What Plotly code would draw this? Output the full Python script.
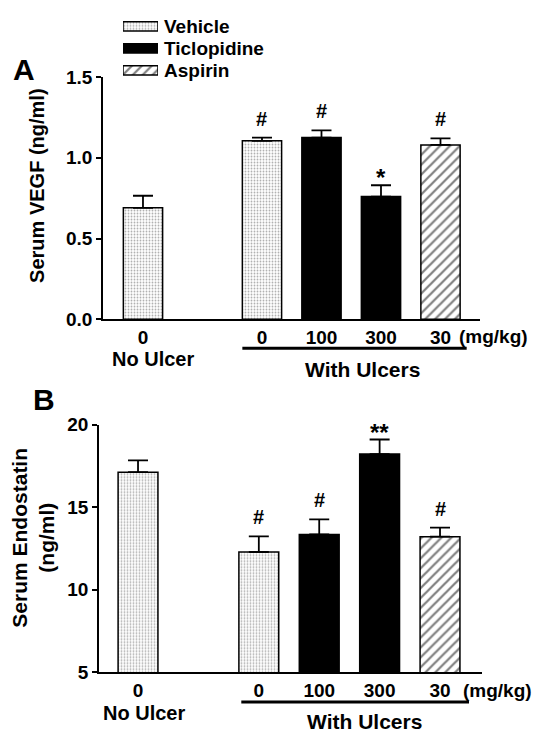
import plotly.graph_objects as go

W, H = 541, 743

# ---------------- data ----------------
groups = ["Vehicle", "Ticlopidine", "Aspirin"]
cat_keys = ["NoUlcer 0", "gap", "Ulcer 0", "Ulcer 100", "Ulcer 300", "Ulcer 30"]
dose_labels = ["0", "", "0", "100", "300", "30"]
bar_keys = ["NoUlcer 0", "Ulcer 0", "Ulcer 100", "Ulcer 300", "Ulcer 30"]
bar_group = ["Vehicle", "Vehicle", "Ticlopidine", "Ticlopidine", "Aspirin"]

vegf_mean = [0.69, 1.105, 1.125, 0.76, 1.08]
vegf_err = [0.075, 0.02, 0.045, 0.07, 0.04]
vegf_sig = ["", "#", "#", "*", "#"]

endo_mean = [17.12, 12.29, 13.35, 18.22, 13.22]
endo_err = [0.72, 0.95, 0.92, 0.88, 0.55]
endo_sig = ["", "#", "#", "**", "#"]

vegf_ticks = [0.0, 0.5, 1.0, 1.5]
vegf_ticktext = ["0.0", "0.5", "1.0", "1.5"]
endo_ticks = [5, 10, 15, 20]

FONT = "Liberation Sans, Arial, Helvetica, sans-serif"


def px(x):
    return x / W


def py(y):
    return 1 - y / H


styles = {
    "Vehicle": dict(color="white",
                    pattern=dict(shape=".", fgcolor="#5f5f5f", bgcolor="white",
                                 size=3, solidity=0.3, fillmode="overlay"),
                    line=dict(color="black", width=1.5)),
    "Ticlopidine": dict(color="black", line=dict(color="black", width=1.5)),
    "Aspirin": dict(color="white",
                    pattern=dict(shape="/", fgcolor="black", bgcolor="white",
                                 size=7, solidity=0.32, fillmode="overlay"),
                    line=dict(color="black", width=1.5)),
}

fig = go.Figure()


def add_panel(means, errs, xa, ya):
    for g in groups:
        idx = [i for i, bg in enumerate(bar_group) if bg == g]
        fig.add_trace(go.Bar(
            x=[bar_keys[i] for i in idx], y=[means[i] for i in idx],
            width=0.66, marker=styles[g], xaxis=xa, yaxis=ya, name=g,
            error_y=dict(type="data", array=[errs[i] for i in idx],
                         arrayminus=[0] * len(idx), symmetric=False,
                         color="black", thickness=1.8, width=10),
            showlegend=False, hoverinfo="skip"))


add_panel(vegf_mean, vegf_err, "x", "y")
add_panel(endo_mean, endo_err, "x2", "y2")

# legend drawn as swatches on a small axis
for g in groups:
    fig.add_trace(go.Bar(x=[1], y=[g], orientation="h", width=0.42,
                         marker=styles[g], xaxis="x3", yaxis="y3",
                         showlegend=False, hoverinfo="skip"))

tickfont = dict(family=FONT, size=19, color="black", weight="bold")

common_x = dict(type="category", categoryorder="array", categoryarray=cat_keys,
                tickmode="array",
                tickvals=[k for k in cat_keys if k != "gap"],
                ticktext=[t for k, t in zip(cat_keys, dose_labels) if k != "gap"],
                showline=True, linecolor="black", linewidth=2.2,
                ticks="", ticklen=0,
                tickfont=tickfont, showgrid=False, zeroline=False, fixedrange=True)
common_y = dict(showline=True, linecolor="black", linewidth=1.6, ticks="outside",
                ticklen=5, tickwidth=1.5, tickcolor="black", tickfont=tickfont,
                showgrid=False, zeroline=False, fixedrange=True)

fig.update_layout(
    width=W, height=H, margin=dict(l=0, r=0, t=0, b=0),
    paper_bgcolor="white", plot_bgcolor="white", barmode="overlay",
    showlegend=False,
    xaxis=dict(common_x, domain=[px(103), px(480)], range=[-0.672, 5.664],
               anchor="y"),
    yaxis=dict(common_y, domain=[py(318.3), py(69)], range=[0, 1.5],
               tickmode="array", tickvals=vegf_ticks, ticktext=vegf_ticktext,
               anchor="x"),
    xaxis2=dict(common_x, domain=[px(99), px(482)], range=[-0.646, 5.695],
                anchor="y2"),
    yaxis2=dict(common_y, domain=[py(681.7), py(426.7)], range=[5, 20],
                tickmode="array", tickvals=endo_ticks, anchor="x2"),
    xaxis3=dict(domain=[px(123), px(158)], range=[0, 1], visible=False,
                fixedrange=True, anchor="y3"),
    yaxis3=dict(domain=[py(73.5), py(5.5)], range=[2.5, -0.5], side="right",
                type="category", categoryorder="array", categoryarray=groups,
                tickmode="array", tickvals=groups, ticktext=groups,
                showline=False, ticks="", showgrid=False, zeroline=False,
                tickfont=dict(family=FONT, size=19, color="black", weight="bold"),
                ticklabelstandoff=5, anchor="x3", fixedrange=True),
)

ann = []


def text(x, y, s, size=19, angle=0, xanchor="center", **kw):
    ann.append(dict(x=x, y=y, xref="paper", yref="paper", text=s, showarrow=False,
                    xanchor=xanchor, yanchor="middle", textangle=angle,
                    font=dict(family=FONT, size=size, color="black", weight="bold"),
                    **kw))


# panel letters and axis titles
text(px(24), py(61), "A", size=30)
text(px(44), py(401), "B", size=30)
text(px(37), py(181), "Serum VEGF (ng/ml)", size=20, angle=-90)
text(px(20), py(543), "Serum Endostatin", size=21, angle=-90)
text(px(47), py(543), "(ng/ml)", size=21, angle=-90)

# group labels
text(px(153), py(359), "No Ulcer", size=20)
text(px(362), py(370), "With Ulcers", size=21)
text(px(457), py(336), "(mg/kg)", size=19, xanchor="left")
text(px(144), py(723), "No Ulcer", size=20)
text(px(364), py(732), "With Ulcers", size=21)
text(px(461), py(700), "(mg/kg)", size=19, xanchor="left")

# significance marks
for means, errs, sig, xr, yr in [(vegf_mean, vegf_err, vegf_sig, "x", "y"),
                                 (endo_mean, endo_err, endo_sig, "x2", "y2")]:
    for k, m, e, s in zip(bar_keys, means, errs, sig):
        if not s:
            continue
        star = "*" in s
        ann.append(dict(x=k, y=m + e, xref=xr, yref=yr, text=s, showarrow=False,
                        xanchor="center", yanchor="bottom",
                        yshift=-8 if star else 6,
                        font=dict(family=FONT, size=24 if star else 20,
                                  color="black", weight="bold")))

fig.update_layout(annotations=ann)

# brackets under "With Ulcers" doses
fig.add_shape(type="line", xref="x", yref="paper", x0=1.67, x1=5.44,
              y0=py(348), y1=py(348), line=dict(color="black", width=3))
fig.add_shape(type="line", xref="x2", yref="paper", x0=1.71, x1=5.48,
              y0=py(712), y1=py(712), line=dict(color="black", width=3))

fig.write_html("out.html")
